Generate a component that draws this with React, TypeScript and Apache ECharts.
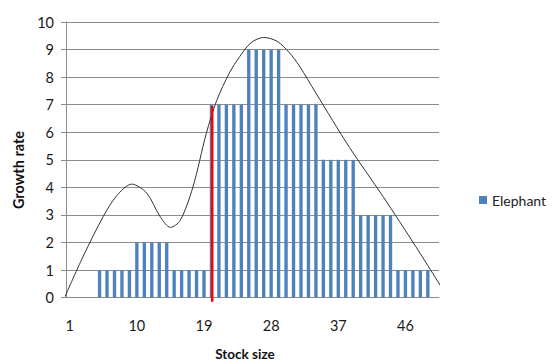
import React, { useEffect, useRef } from "react";
import * as echarts from "echarts";

const categories: string[] = [
  "1","2","3","4","5","6","7","8","9","10",
  "11","12","13","14","15","16","17","18","19","20",
  "21","22","23","24","25","26","27","28","29","30",
  "31","32","33","34","35","36","37","38","39","40",
  "41","42","43","44","45","46","47","48","49","50",
];

const elephantValues: (number | null)[] = [
  null, null, null, null, 1, 1, 1, 1, 1, 2,
  2, 2, 2, 2, 1, 1, 1, 1, 1, 7,
  7, 7, 7, 7, 9, 9, 9, 9, 9, 7,
  7, 7, 7, 7, 5, 5, 5, 5, 5, 3,
  3, 3, 3, 3, 1, 1, 1, 1, 1, null,
];

// trend curve, x in category units, y in growth rate
const curveX: number[] = [0.3, 2.8, 5.5, 7.3, 9.3, 11.3, 13.1, 14.5, 15.8, 17.5, 19.3, 20.7, 22.4, 23.8, 25.3, 27.0, 28.8, 30.4, 31.8, 34.0, 38.5, 43.0, 47.4, 51.7];
const curveY: number[] = [0.0, 1.5, 2.95, 3.7, 4.12, 3.8, 2.95, 2.55, 2.8, 4.0, 5.95, 7.15, 8.15, 8.75, 9.25, 9.44, 9.3, 8.9, 8.4, 7.42, 5.45, 3.67, 1.85, 0.0];

// red marker line: category position and its height
const redLineX: number[] = [20.1, 20.1];
const redLineY: number[] = [-0.15, 6.95];

const yTicks: number[] = [0, 1, 2, 3, 4, 5, 6, 7, 8, 9, 10];

const FONT = "Lato, 'Open Sans', sans-serif";

export default function App() {
  const ref = useRef<HTMLDivElement>(null);
  useEffect(() => {
    if (!ref.current) return;
    const chart = echarts.init(ref.current, undefined, { renderer: "svg" });
    const curveData = curveX.map((x, i) => [x, curveY[i]]);
    const redData = redLineX.map((x, i) => [x, redLineY[i]]);
    chart.setOption({
      animation: false,
      backgroundColor: "#ffffff",
      textStyle: { fontFamily: FONT },
      grid: { left: 66, right: 114, top: 22, bottom: 64.3, containLabel: false },
      legend: {
        data: ["Elephant"],
        orient: "vertical",
        left: 474,
        top: 188,
        icon: "rect",
        itemWidth: 8,
        itemHeight: 8,
        itemGap: 4,
        textStyle: { fontSize: 14, color: "#222", fontFamily: FONT },
      },
      xAxis: [
        {
          type: "category",
          data: categories,
          axisLine: { show: true, lineStyle: { color: "#8c8c8c", width: 1 } },
          axisTick: { show: false },
          axisLabel: { interval: 8, fontSize: 14.5, color: "#1a1a1a", margin: 20, fontFamily: FONT },
          splitLine: { show: false },
        },
        {
          type: "value",
          min: 0.5,
          max: 50.5,
          show: false,
        },
      ],
      yAxis: {
        type: "value",
        min: yTicks[0],
        max: yTicks[yTicks.length - 1],
        interval: 1,
        axisLine: { show: true, lineStyle: { color: "#8c8c8c", width: 1 } },
        axisTick: { show: true, length: 5, lineStyle: { color: "#8c8c8c" } },
        axisLabel: { fontSize: 14.5, color: "#1a1a1a", margin: 12, fontFamily: FONT },
        splitLine: { show: true, lineStyle: { color: "#8c8c8c", width: 1 } },
      },
      graphic: [
        {
          type: "text",
          x: 18,
          y: 170,
          rotation: Math.PI / 2,
          style: {
            text: "Growth rate",
            font: `bold 14.5px ${FONT}`,
            fill: "#111",
            align: "center",
            verticalAlign: "middle",
          },
        },
        {
          type: "text",
          x: 245,
          y: 354,
          style: {
            text: "Stock size",
            font: `bold 13.5px ${FONT}`,
            fill: "#111",
            align: "center",
            verticalAlign: "middle",
          },
        },
      ],
      series: [
        {
          name: "Elephant",
          type: "bar",
          data: elephantValues,
          itemStyle: { color: "#4F81BD" },
          barCategoryGap: "55%",
          z: 2,
        },
        {
          name: "Marker",
          type: "line",
          xAxisIndex: 1,
          data: redData,
          symbol: "none",
          clip: false,
          lineStyle: { color: "#ff0000", width: 2.5 },
          z: 4,
        },
        {
          name: "Trend",
          type: "line",
          xAxisIndex: 1,
          data: curveData,
          smooth: 0.3,
          symbol: "none",
          clip: false,
          lineStyle: { color: "#333333", width: 1 },
          z: 3,
        },
      ],
    });
    return () => chart.dispose();
  }, []);
  return <div ref={ref} style={{ position: "fixed", left: 0, top: 0, width: 553, height: 362 }} />;
}
